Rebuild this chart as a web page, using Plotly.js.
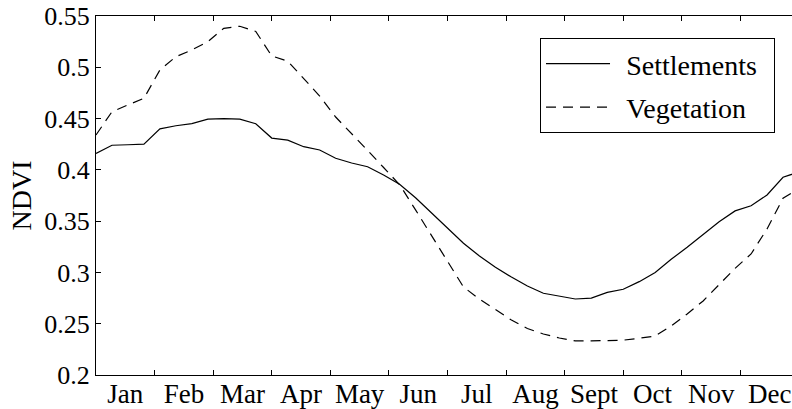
<!DOCTYPE html>
<html>
<head>
<meta charset="utf-8">
<script src="https://cdn.plot.ly/plotly-3.0.1.min.js"></script>
<style>
html, body { margin: 0; padding: 0; overflow: hidden; background: #fff; }
#chart { width: 810px; height: 409px; }
</style>
</head>
<body>
<div id="chart"></div>
<script>
// Month labels (placed between month boundaries)
const months = ["Jan", "Feb", "Mar", "Apr", "May", "Jun", "Jul", "Aug", "Sept", "Oct", "Nov", "Dec"];
// Composite index along the year (45 composites spanning 12 months)
const composite = Array.from({length: 45}, (_, i) => i);
// NDVI series
const settlements = [
  0.416, 0.424, 0.4245, 0.425, 0.440, 0.443, 0.445, 0.4495, 0.450, 0.4495,
  0.445, 0.431, 0.429, 0.4226, 0.4194, 0.4113, 0.4067, 0.403, 0.395, 0.386,
  0.3728, 0.358, 0.3438, 0.3284, 0.316, 0.305, 0.2955, 0.2868, 0.2797, 0.277,
  0.2741, 0.275, 0.2806, 0.2836, 0.291, 0.300, 0.3128, 0.3245, 0.3372, 0.3495,
  0.360, 0.365, 0.3755, 0.3928, 0.398
];
const vegetation = [
  0.434, 0.4567, 0.4633, 0.4697, 0.4974, 0.5103, 0.5169, 0.525, 0.538, 0.540,
  0.535, 0.511, 0.506, 0.489, 0.472, 0.4515, 0.4355, 0.419, 0.4023, 0.3856,
  0.361, 0.3355, 0.310, 0.2858, 0.274, 0.2634, 0.2536, 0.2453, 0.240, 0.2361,
  0.2332, 0.2332, 0.2336, 0.234, 0.2358, 0.238, 0.2478, 0.2595, 0.2722, 0.2878,
  0.304, 0.318, 0.3424, 0.3723, 0.382
];
const yTickVals = [0.2, 0.25, 0.3, 0.35, 0.4, 0.45, 0.5, 0.55];
const yTickText = ["0.2", "0.25", "0.3", "0.35", "0.4", "0.45", "0.5", "0.55"];
const seriesNames = ["Settlements", "Vegetation"];

const monthPos = composite.map(i => i * 12 / (composite.length - 1));
const boundaries = Array.from({length: 13}, (_, i) => i);
const centers = months.map((_, i) => i + 0.5);

const FONT = "Liberation Serif";
const pad = "\u2009\u2009";

const traces = [
  {x: monthPos, y: settlements, name: pad + seriesNames[0] + pad, type: "scatter", mode: "lines",
   line: {color: "#000", width: 1.2}, legendgroup: "a", xaxis: "x", yaxis: "y"},
  {x: monthPos, y: vegetation, name: pad + seriesNames[1] + pad, type: "scatter", mode: "lines",
   line: {color: "#000", width: 1.2, dash: "10px,7px"}, legendgroup: "b", xaxis: "x2", yaxis: "y"}
];

const layout = {
  width: 810, height: 409,
  margin: {l: 96, r: 11, t: 16, b: 34},
  paper_bgcolor: "#fff", plot_bgcolor: "#fff",
  font: {family: FONT, size: 26, color: "#000"},
  showlegend: true,
  legend: {
    x: 0.6316, y: 0.9387, xanchor: "left", yanchor: "top",
    bgcolor: "#fff", bordercolor: "#000", borderwidth: 1,
    font: {family: FONT, size: 28, color: "#000"},
    itemwidth: 64, tracegroupgap: 4
  },
  xaxis: {
    range: [0, 12], tickmode: "array", tickvals: boundaries, showticklabels: false,
    ticks: "inside", ticklen: 5, tickcolor: "#000", tickwidth: 1,
    showline: true, linecolor: "#000", linewidth: 1, mirror: "ticks",
    showgrid: false, zeroline: false
  },
  xaxis2: {
    overlaying: "x", anchor: "y", side: "bottom",
    range: [0, 12], tickmode: "array", tickvals: centers, ticktext: months,
    ticks: "", showline: false, showgrid: false, zeroline: false,
    tickfont: {family: FONT, size: 27, color: "#000"}
  },
  yaxis: {
    range: [0.2, 0.55], tickmode: "array", tickvals: yTickVals, ticktext: yTickText,
    ticks: "inside", ticklen: 5, tickcolor: "#000", tickwidth: 1,
    showline: true, linecolor: "#000", linewidth: 1, mirror: "ticks",
    showgrid: false, zeroline: false,
    tickfont: {family: FONT, size: 26, color: "#000"},
    title: {text: "NDVI", font: {family: FONT, size: 28, color: "#000"}, standoff: 4}
  }
};

Plotly.newPlot("chart", traces, layout, {displayModeBar: false, staticPlot: true});
</script>
</body>
</html>
